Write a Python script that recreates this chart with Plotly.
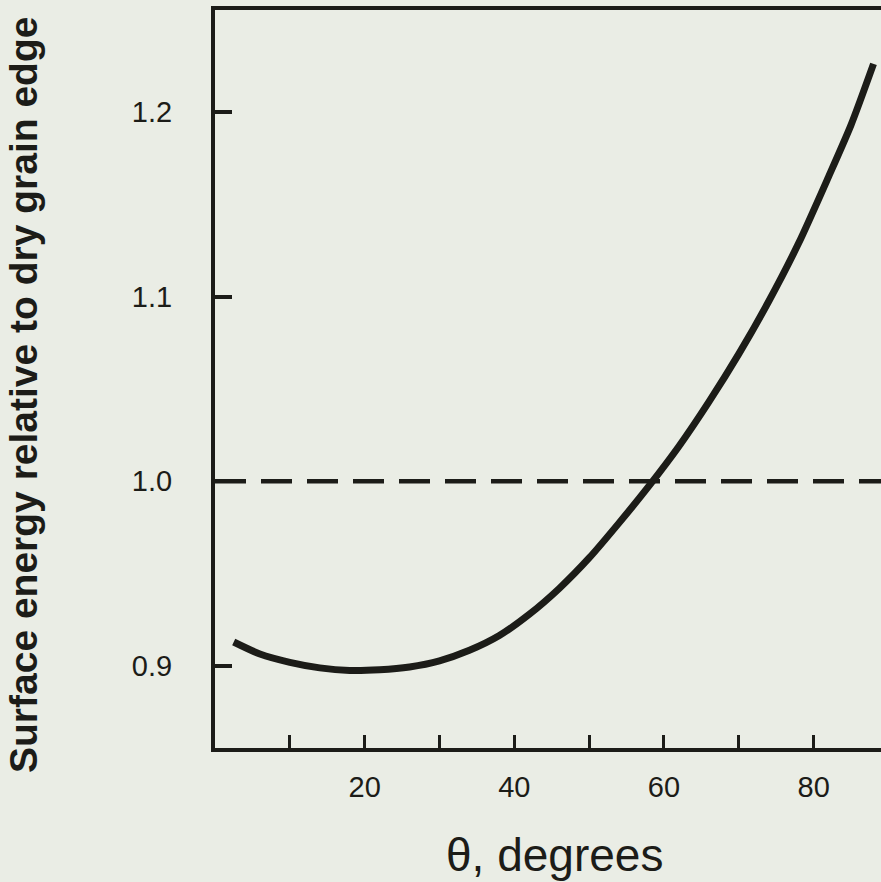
import plotly.graph_objects as go

# Data
theta_deg = [2.5, 6, 10, 14, 18, 22, 26, 30, 34, 38, 42, 46, 50, 54, 58,
             62, 66, 70, 74, 78, 82, 85, 88]
energy_rel = [0.9130, 0.9065, 0.9020, 0.8990, 0.8976, 0.8980, 0.8995, 0.9028,
              0.9085, 0.9165, 0.9280, 0.9420, 0.9585, 0.9775, 0.9975,
              1.0190, 1.0430, 1.0690, 1.0975, 1.1290, 1.1650, 1.1930, 1.2260]
reference_level = 1.0

x_tick_vals = [10, 20, 30, 40, 50, 60, 70, 80]
x_tick_text = ["", "20", "", "40", "", "60", "", "80"]
y_tick_vals = [0.9, 1.0, 1.1, 1.2]
y_tick_text = ["0.9", "1.0", "1.1", "1.2"]

x_range = [0, 89.0]
y_range = [0.8556, 1.2552]

INK = "#1c1c18"
PAPER = "#eaede5"
FONT = "Liberation Sans"

fig = go.Figure()
fig.add_trace(go.Scatter(
    x=theta_deg, y=energy_rel, mode="lines",
    line=dict(color=INK, width=7, shape="spline", smoothing=0.7),
    showlegend=False, hoverinfo="skip",
))
fig.add_hline(y=reference_level, line=dict(color=INK, width=4.5, dash="31px,15px"))

fig.update_layout(
    width=881, height=882, autosize=False,
    margin=dict(l=215, r=0, t=10, b=134, pad=0),
    paper_bgcolor=PAPER, plot_bgcolor=PAPER,
    font=dict(family=FONT, color=INK),
    xaxis=dict(
        range=x_range, showgrid=False, zeroline=False,
        showline=True, linecolor=INK, linewidth=4, mirror=True,
        ticks="inside", ticklen=13, tickwidth=3, tickcolor=INK,
        tickvals=x_tick_vals, ticktext=x_tick_text,
        tickfont=dict(size=29, family=FONT, color=INK),
        ticklabelstandoff=10,
    ),
    yaxis=dict(
        range=y_range, showgrid=False, zeroline=False,
        showline=True, linecolor=INK, linewidth=4, mirror=False,
        ticks="inside", ticklen=17, tickwidth=3.5, tickcolor=INK,
        tickvals=y_tick_vals, ticktext=y_tick_text,
        tickfont=dict(size=29, family=FONT, color=INK),
        ticklabelstandoff=33,
    ),
    yaxis2=dict(
        range=y_range, overlaying="y", side="right", anchor="x",
        showgrid=False, zeroline=False, showline=False,
        ticks="inside", ticklen=10, tickwidth=3.5, tickcolor=INK,
        tickvals=y_tick_vals, showticklabels=False,
    ),
)

fig.add_annotation(
    text="<b>Surface energy relative to dry grain edge</b>",
    xref="paper", yref="paper", x=(23 - 215) / 666, y=(748 - 395) / 738,
    xanchor="center", yanchor="middle", textangle=-90, showarrow=False,
    font=dict(size=39, family=FONT, color=INK),
)
fig.add_annotation(
    text="θ, degrees",
    xref="paper", yref="paper", x=(554 - 215) / 666, y=(748 - 855) / 738,
    xanchor="center", yanchor="middle", showarrow=False,
    font=dict(size=46, family=FONT, color=INK),
)

fig.write_html(
    "out.html",
    config={"displayModeBar": False},
    post_script="document.body.style.margin='0';document.body.style.overflow='hidden';",
)
